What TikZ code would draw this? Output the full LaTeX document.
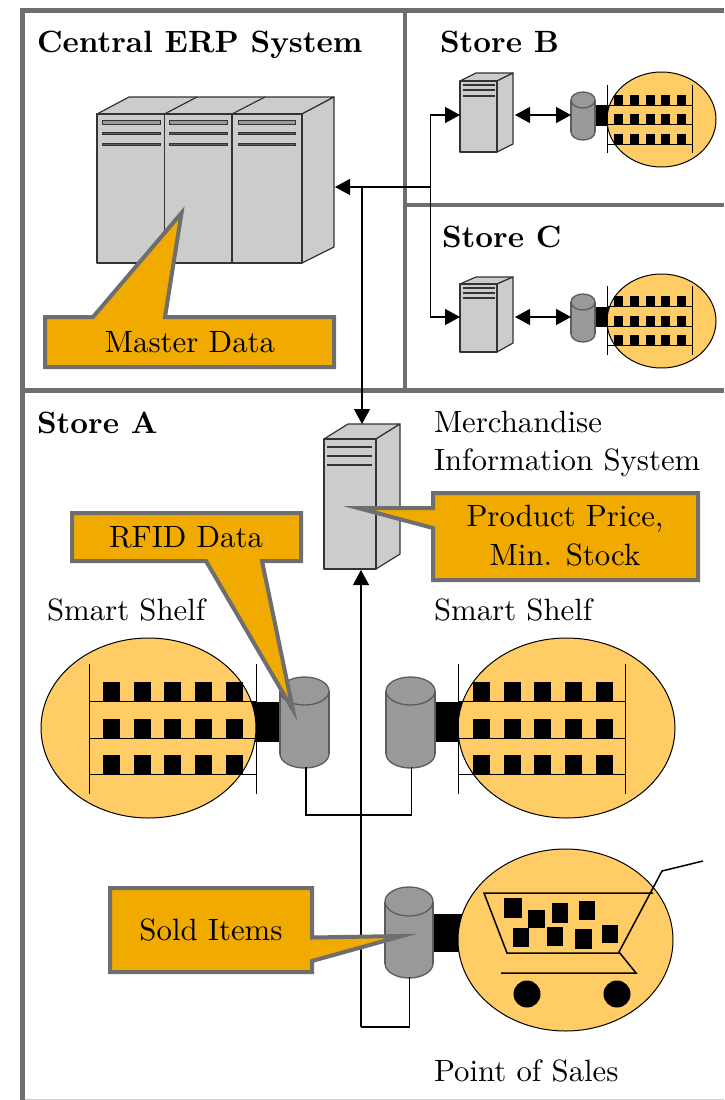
\documentclass[tikz,border=0pt]{standalone}
\usetikzlibrary{arrows.meta}
\definecolor{framegray}{HTML}{6E6E6E}
\definecolor{calloutfill}{HTML}{F0AA00}
\definecolor{shelffill}{HTML}{FFCC66}
\definecolor{servergray}{HTML}{CCCCCC}
\definecolor{cylgray}{HTML}{999999}
\definecolor{edgegray}{HTML}{333333}
\tikzset{
  framebar/.style={draw=framegray,line width=4.6pt},
  serverbody/.style={draw=edgegray,fill=servergray,line width=1.2pt,line join=round},
  serverslot/.style={draw=edgegray,fill=cylgray!60!black,line width=1pt},
  cylbody/.style={fill=cylgray},
  cylline/.style={draw=edgegray!80!white,line width=1.3pt},
  blob/.style={draw=black,fill=shelffill,line width=1pt},
  shelfline/.style={draw=black,line width=1pt},
  link/.style={draw=black,line width=1.3pt},
  bigtip/.style={-{Triangle[length=15pt,width=16pt]}},
  bothtip/.style={{Triangle[length=15pt,width=16pt]}-{Triangle[length=15pt,width=16pt]}},
  callout/.style={draw=framegray,fill=calloutfill,line width=4pt,miter limit=14,line join=miter},
  lab/.style={scale=3.08,transform shape,inner sep=0pt,outer sep=0pt,anchor=base west},
  clab/.style={scale=3.08,transform shape,inner sep=0pt,outer sep=0pt,anchor=base,align=center},
  ttl/.style={scale=3.08,transform shape,inner sep=0pt,outer sep=0pt,anchor=base west,font=\bfseries},
}
% front-left x, front-right x, back-right x, back-top y, front-top y, front-bottom y, back-bottom y
\newcommand{\towerserver}[7]{%
  \pgfmathsetmacro{\bl}{#1+#3-#2}
  \draw[serverbody] (#1,#5) -- (\bl,#4) -- (#3,#4) -- (#2,#5) -- cycle;
  \draw[serverbody] (#2,#5) -- (#3,#4) -- (#3,#7) -- (#2,#6) -- cycle;
  \draw[serverbody] (#1,#5) rectangle (#2,#6);
}
% left, right, y
\newcommand{\slotbar}[3]{\draw[serverslot] (#1,#3-0.8) rectangle (#2,#3+0.8);}
% left, right, top y, bottom y, radius y
\newcommand{\cylinder}[5]{%
  \pgfmathsetmacro{\cx}{(#1+#2)/2}\pgfmathsetmacro{\rx}{(#2-#1)/2}
  \pgfmathsetmacro{\yt}{#3+#5}\pgfmathsetmacro{\yb}{#4-#5}
  \draw[cylline,fill=cylgray] (\cx,\yb) ellipse [x radius=\rx,y radius=#5];
  \fill[cylbody] (#1,\yt) rectangle (#2,\yb);
  \draw[cylline] (#1,\yt) -- (#1,\yb) (#2,\yt) -- (#2,\yb);
  \draw[cylline,fill=cylgray] (\cx,\yt) ellipse [x radius=\rx,y radius=#5];
}
% x-left, x-right, y-top, y-bottom, line y's a b c, item width, item x list
\newcommand{\shelf}[9]{%
  \draw[shelfline] (#1,#3) -- (#1,#4) (#2,#3) -- (#2,#4);
  \foreach \ly in {#5,#6,#7}{
    \draw[shelfline] (#1,\ly) -- (#2,\ly);
    \foreach \ix in {#9}{\fill[black] (\ix,\ly) rectangle ++(#8,-\shelfh);}
  }
}
\newcommand{\cartitem}[4]{\fill[black] (#1,#3) rectangle (#2,#4);}
\begin{document}
\begin{tikzpicture}[x=1pt,y=-1pt]
\useasboundingbox (0,0) rectangle (724,1100);
\fill[white] (0,0) rectangle (724,1100);

% Frame
\draw[framebar] (724,10.5) -- (22.5,10.5) -- (22.5,1100);
\draw[framebar] (405,10.5) -- (405,390.5);
\draw[framebar] (22.5,390.5) -- (724,390.5);
\draw[framebar] (405,205) -- (724,205);
\draw[black!20,line width=1pt] (25,1099.5) -- (724,1099.5);

% Named connection points
\coordinate (erpIn) at (335,187);
\coordinate (hubB) at (430.5,187);
\coordinate (tapA) at (362,187);
\coordinate (serverBin) at (460,115);
\coordinate (serverCin) at (460,317);
\coordinate (turnB) at (430.5,115);
\coordinate (turnC) at (430.5,317);
\coordinate (serverBout) at (515,115);
\coordinate (serverCout) at (515,317);
\coordinate (cylBin) at (571,115);
\coordinate (cylCin) at (571,317);
\coordinate (misTop) at (362,424);
\coordinate (misBottom) at (361,570);
\coordinate (cylLbottom) at (306,767);
\coordinate (cylRbottom) at (411.5,767);
\coordinate (busL) at (306,815);
\coordinate (busR) at (411.5,815);
\coordinate (cylPbottom) at (409.5,977);
\coordinate (busPr) at (409.5,1027);
\coordinate (busPl) at (361,1027);

% Central ERP server
\towerserver{97}{302}{334}{97}{114}{263}{247}
\draw[serverbody,fill=none] (164.5,114) -- (197,97) (232,114) -- (265,97);
\draw[serverbody,fill=none] (164.5,114) -- (164.5,263) (232,114) -- (232,263);
\foreach \l/\r in {102.5/160,169.5/227,238/295}{
  \draw[serverslot,fill=cylgray] (\l,120) rectangle (\r,124.5);
  \slotbar{\l}{\r}{133.5}\slotbar{\l}{\r}{144.5}
}

% Store B and C servers
\towerserver{460}{497}{513}{73}{81}{152}{144}
\foreach \y in {85,90,96}{\slotbar{463.5}{494}{\y}}
\towerserver{460}{497}{513}{277}{284}{352}{343}
\foreach \y in {288,293,298}{\slotbar{463.5}{494}{\y}}

% Store B shelf
\fill[black] (595,105) rectangle (610,126);
\draw[blob] (661.5,119.5) ellipse [x radius=54.5,y radius=47.5];
\def\shelfh{10}
\shelf{607.5}{692.5}{85}{153}{105}{124}{144}{9.2}{614,630,646,661,677}
\cylinder{571}{595}{92}{140}{8}

% Store C shelf
\fill[black] (595,307) rectangle (610,327);
\draw[blob] (661.5,321) ellipse [x radius=54.5,y radius=47];
\shelf{607.5}{692.5}{286}{355}{306}{326}{345}{9.2}{614,630,646,661,677}
\cylinder{571}{595}{294}{342}{8}

% MIS server
\towerserver{324}{376}{400}{424}{439}{569}{554}
\foreach \y in {447,456,465}{\slotbar{327}{371}{\y}}

% Store A left shelf
\fill[black] (250,702) rectangle (282,742);
\draw[blob] (148.5,728) ellipse [x radius=107.5,y radius=90];
\def\shelfh{19}
\shelf{89}{256}{664}{794}{701}{738}{774}{16.5}{103,134,164,195,226}

% Store A right shelf
\fill[black] (433,702) rectangle (462,742);
\draw[blob] (566.5,728) ellipse [x radius=108.5,y radius=90];
\shelf{458.5}{625}{664}{794}{701}{738}{774}{16.5}{473,504,534,565,596}

\cylinder{280}{329}{677}{768}{14}
\cylinder{386}{435}{677}{768}{14}

% Point of sales
\fill[black] (433,914) rectangle (462,952);
\draw[blob] (565.5,940) ellipse [x radius=107.5,y radius=91];
\cylinder{385}{433}{887}{978}{14.5}
\draw[black,line width=1.5pt,line join=miter] (703,861) -- (662,871) -- (619,952) -- (636,973) -- (501,973);
\draw[black,line width=1.5pt] (653,893) -- (484,893) -- (507,953) -- (619,953);
\fill[black] (527,994) circle [radius=13.5] (617,994) circle [radius=13.5];
\cartitem{504}{522}{898}{918}
\cartitem{528}{545}{910}{928}
\cartitem{552}{568}{903}{923}
\cartitem{579}{595}{901}{920}
\cartitem{513}{529}{928}{947}
\cartitem{547}{563}{927}{946}
\cartitem{575}{592}{929}{949}
\cartitem{602}{618}{925}{943}

% Connectors
\draw[link,bigtip] (hubB) -- (erpIn);
\draw[link,bigtip] (tapA) -- (misTop);
\draw[link,bigtip] (hubB) -- (turnB) -- (serverBin);
\draw[link,bigtip] (hubB) -- (turnC) -- (serverCin);
\draw[link,bothtip] (serverBout) -- (cylBin);
\draw[link,bothtip] (serverCout) -- (cylCin);
\draw[link,bigtip] (busPl) -- (misBottom);
\draw[link] (cylLbottom) -- (busL) -- (busR) -- (cylRbottom);
\draw[link] (cylPbottom) -- (busPr) -- (busPl);

% Callouts
\draw[callout] (45,317) -- (93,317) -- (181.5,213) -- (165,317) -- (334,317) -- (334,367) -- (45,367) -- cycle;
\draw[callout] (72,513) -- (301,513) -- (301,561) -- (262,561) -- (293,710) -- (206,561) -- (72,561) -- cycle;
\draw[callout] (433,493) -- (698,493) -- (698,580) -- (433,580) -- (433,528) -- (358,508) -- (433,508) -- cycle;
\draw[callout] (110,888) -- (312,888) -- (312,937.5) -- (402,936) -- (312,961) -- (312,972) -- (110,972) -- cycle;

% Text
\node[ttl] (tErp) at (37,52) {Central ERP System};
\node[ttl] (tB) at (440,52) {Store B};
\node[ttl] (tC) at (442,247) {Store C};
\node[ttl] (tA) at (37,433) {Store A};
\node[lab] (tMis1) at (434,432) {Merchandise};
\node[lab] (tMis2) at (434,470) {Information System};
\node[lab] (tSsL) at (47,620) {Smart Shelf};
\node[lab] (tSsR) at (434,620) {Smart Shelf};
\node[lab] (tPos) at (434,1081) {Point of Sales};
\node[clab] (tMaster) at (190,352) {Master Data};
\node[clab] (tRfid) at (186,547) {RFID Data};
\node[clab] (tPrice) at (565,526) {Product Price,};
\node[clab] (tStock) at (565,565) {Min. Stock};
\node[clab] (tSold) at (211,940) {Sold Items};
\end{tikzpicture}
\end{document}
